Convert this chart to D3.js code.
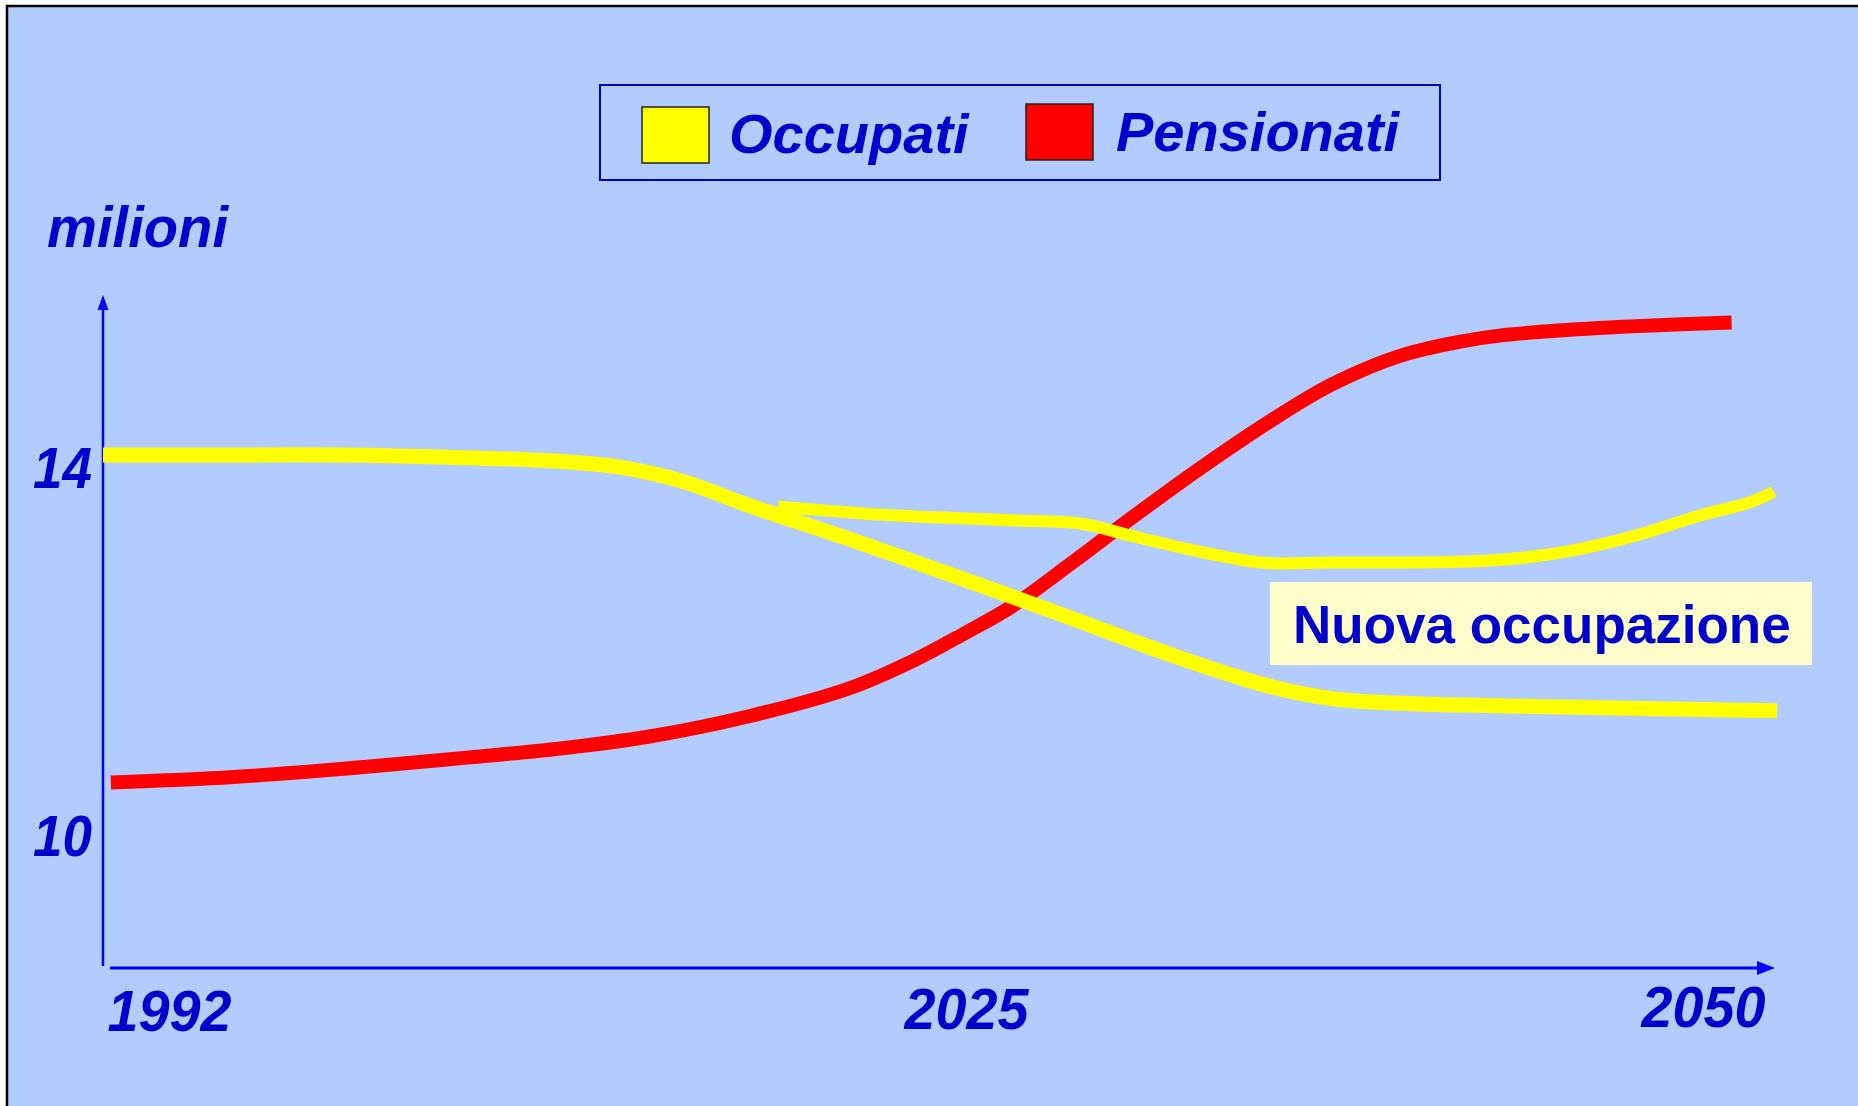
<!DOCTYPE html>
<html>
<head>
<meta charset="utf-8">
<script src="https://cdn.jsdelivr.net/npm/d3@7"></script>
<style>
  html, body { margin: 0; padding: 0; background: #ffffff; }
  svg { display: block; }
  text { font-family: "Liberation Sans", Arial, sans-serif; }
</style>
</head>
<body>
<svg id="chart" width="1858" height="1106"></svg>
<script>
// ---- data (years, millions) ----
const yearTicks = [1992, 2025, 2050];
const yearLabels = ["1992", "2025", "2050"];
const valueTicks = [10, 14];
const valueLabels = ["10", "14"];
const seriesNames = ["Occupati", "Pensionati"];
const seriesColors = ["#FFFF00", "#FF0000"];

const occupati = [
  [1992.0, 14.12], [1997.0, 14.12], [2000.8, 14.12], [2004.6, 14.10], [2009.5, 14.05],
  [2011.7, 13.99], [2014.2, 13.83], [2016.7, 13.57], [2020.6, 13.20], [2024.4, 12.82],
  [2027.6, 12.43], [2030.2, 12.09], [2032.2, 11.84], [2034.3, 11.61], [2036.3, 11.47],
  [2038.4, 11.42], [2043.5, 11.38], [2050.0, 11.34]
];
const pensionati = [
  [1992.3, 10.56], [1997.0, 10.62], [2002.1, 10.73], [2005.9, 10.83], [2009.5, 10.93],
  [2012.9, 11.06], [2016.7, 11.28], [2020.6, 11.59], [2023.1, 11.90], [2025.0, 12.19],
  [2026.4, 12.47], [2028.2, 12.93], [2030.2, 13.46], [2032.2, 13.97], [2034.3, 14.47],
  [2036.3, 14.89], [2038.4, 15.20], [2040.2, 15.35], [2041.5, 15.42], [2044.5, 15.50],
  [2048.6, 15.56]
];
const nuovaOccupazione = [
  [2017.8, 13.56], [2021.8, 13.47], [2026.4, 13.41], [2028.6, 13.37], [2030.1, 13.24],
  [2032.2, 13.07], [2034.1, 12.95], [2036.3, 12.95], [2040.2, 12.96], [2041.5, 12.98],
  [2043.5, 13.07], [2045.6, 13.24], [2047.6, 13.46], [2049.2, 13.61], [2049.9, 13.72]
];
const yTitle = "milioni";
const noteLabel = "Nuova occupazione";

// ---- layout ----
const svg = d3.select("#chart");
const BG = "#B2CCFF";
const TEXT = "#0000CC";
const AXIS = "#0000FF";

const x = d3.scaleLinear().domain(yearTicks).range([103, 966, 1777]);
const y = d3.scaleLinear().domain([10, 14]).range([834, 466]);

// frame
svg.append("rect").attr("x", 7).attr("y", 6).attr("width", 1900).attr("height", 1200)
  .attr("fill", BG).attr("stroke", "#000").attr("stroke-width", 2.5);

// y axis (custom styled d3 axis)
const yAxisG = svg.append("g").attr("transform", "translate(103,0)")
  .call(d3.axisLeft(y).tickValues(valueTicks).tickSize(0).tickPadding(11)
    .tickFormat(d => valueLabels[valueTicks.indexOf(d)]));
yAxisG.select(".domain").remove();
yAxisG.selectAll("text")
  .attr("fill", TEXT).attr("font-size", 58).attr("font-weight", "bold")
  .attr("font-style", "italic").attr("dy", "21px")
  .attr("textLength", 59).attr("lengthAdjust", "spacingAndGlyphs");

// y axis line + arrow
svg.append("line").attr("x1", 103).attr("x2", 103).attr("y1", 966).attr("y2", 308)
  .attr("stroke", AXIS).attr("stroke-width", 2.5);
svg.append("path").attr("d", "M103,295 L97.5,310 L108.5,310 Z").attr("fill", AXIS);

// x axis
const xAxisG = svg.append("g").attr("transform", "translate(0,968)")
  .call(d3.axisBottom(x).tickValues(yearTicks).tickSize(0)
    .tickFormat(d => yearLabels[yearTicks.indexOf(d)]));
xAxisG.select(".domain").remove();
const anchors = ["start", "middle", "end"];
const dxs = [4, 0, -12];
const baselines = [63, 61, 59];
xAxisG.selectAll("text")
  .attr("fill", TEXT).attr("font-size", 58).attr("font-weight", "bold")
  .attr("font-style", "italic")
  .attr("text-anchor", (d, i) => anchors[i])
  .attr("dx", (d, i) => dxs[i])
  .attr("y", (d, i) => baselines[i]).attr("dy", 0)
  .attr("textLength", 124).attr("lengthAdjust", "spacingAndGlyphs");
svg.append("line").attr("x1", 110).attr("x2", 1760).attr("y1", 968).attr("y2", 968)
  .attr("stroke", AXIS).attr("stroke-width", 3);
svg.append("path").attr("d", "M1775,968 L1757,961 L1757,975 Z").attr("fill", AXIS);

// y title
svg.append("text").attr("x", 47).attr("y", 247).text(yTitle)
  .attr("fill", TEXT).attr("font-size", 57).attr("font-weight", "bold").attr("font-style", "italic")
  .attr("textLength", 181).attr("lengthAdjust", "spacingAndGlyphs");

// lines
const line = d3.line().x(d => x(d[0])).y(d => y(d[1])).curve(d3.curveCatmullRom.alpha(0.5));
svg.append("path").datum(pensionati).attr("d", line)
  .attr("fill", "none").attr("stroke", seriesColors[1]).attr("stroke-width", 14);
svg.append("path").datum(occupati).attr("d", line)
  .attr("fill", "none").attr("stroke", seriesColors[0]).attr("stroke-width", 15);
svg.append("path").datum(nuovaOccupazione).attr("d", line)
  .attr("fill", "none").attr("stroke", seriesColors[0]).attr("stroke-width", 12);

// note label
svg.append("rect").attr("x", 1270).attr("y", 582).attr("width", 542).attr("height", 83)
  .attr("fill", "#FFFFCC");
svg.append("text").attr("x", 1293).attr("y", 643).text(noteLabel)
  .attr("fill", TEXT).attr("font-size", 53).attr("font-weight", "bold");

// legend
const lg = svg.append("g");
lg.append("rect").attr("x", 600).attr("y", 85).attr("width", 840).attr("height", 95)
  .attr("fill", "none").attr("stroke", TEXT).attr("stroke-width", 2);
const legendItems = [
  { name: seriesNames[0], color: seriesColors[0], sx: 642, sy: 107, tx: 729, ty: 153 },
  { name: seriesNames[1], color: seriesColors[1], sx: 1026, sy: 104, tx: 1116, ty: 151 }
];
legendItems.forEach(it => {
  lg.append("rect").attr("x", it.sx).attr("y", it.sy).attr("width", 67).attr("height", 56)
    .attr("fill", it.color).attr("stroke", "#222").attr("stroke-width", 1.5);
  lg.append("text").attr("x", it.tx).attr("y", it.ty).text(it.name)
    .attr("fill", TEXT).attr("font-size", 56).attr("font-weight", "bold").attr("font-style", "italic");
});
</script>
</body>
</html>
